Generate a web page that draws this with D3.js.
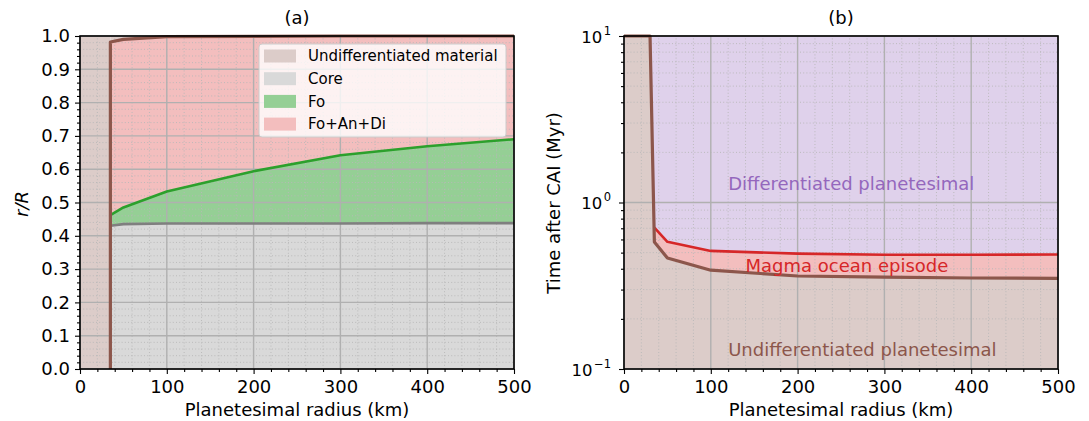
<!DOCTYPE html>
<html><head><meta charset="utf-8">
<script src="https://cdn.jsdelivr.net/npm/d3@7"></script>
<style>
body{margin:0;background:#fff;}
svg{font-family:"DejaVu Sans",sans-serif;}
</style></head>
<body><svg id="c" width="1089" height="421"></svg>
<script>
// ---------- data ----------
// Panel (a): radial structure r/R vs planetesimal radius (km)
const radiusA = [35, 50, 100, 200, 300, 400, 500];
const coreTop = [0.430, 0.435, 0.437, 0.437, 0.437, 0.438, 0.438];
const foTop   = [0.462, 0.485, 0.533, 0.594, 0.642, 0.669, 0.690];
const crustBase = [0.982, 0.990, 0.998, 0.999, 1.0, 1.0, 1.0];
const undiffEdgeA = 35;
const legendLabels = ["Undifferentiated material", "Core", "Fo", "Fo+An+Di"];
const xTicks = [0, 100, 200, 300, 400, 500];
const yTicksA = [0, 0.1, 0.2, 0.3, 0.4, 0.5, 0.6, 0.7, 0.8, 0.9, 1.0];
// Panel (b): times after CAI (Myr)
const radiusDiff = [0, 30, 35, 50, 100, 200, 300, 400, 500];
const tDiffOnset = [10, 10, 0.58, 0.464, 0.392, 0.362, 0.356, 0.352, 0.350];
const radiusMagma = [35, 50, 100, 200, 300, 400, 500];
const tMagmaEnd = [0.706, 0.581, 0.512, 0.493, 0.486, 0.485, 0.487];
const yTicksB = [0.1, 1, 10];
const regionLabels = ["Differentiated planetesimal", "Magma ocean episode", "Undifferentiated planetesimal"];

// ---------- setup ----------
const svg = d3.select("#c");
const C = {brown:"#8c564b", gray:"#7f7f7f", green:"#2ca02c", red:"#d62728", purple:"#9467bd"};
const fill = {brown:"#dcccc9", gray:"#d9d9d9", green:"#95cf95", red:"#f3bebe", purple:"#dfd1eb"};
const H = {top:36, bottom:369};
const FT = 18, FL = 18;
const xA = d3.scaleLinear().domain([0,500]).range([80,514]);
const yA = d3.scaleLinear().domain([0,1]).range([H.bottom,H.top]);
const xB = d3.scaleLinear().domain([0,500]).range([624,1058]);
const yB = d3.scaleLog().domain([0.1,10]).range([H.bottom,H.top]);

function poly(g, pts, x, y, color){
  g.append("path").attr("d", "M"+pts.map(p=>x(p[0])+","+y(p[1])).join("L")+"Z").attr("fill", color).attr("stroke","none");
}
function line(g, pts, x, y, color, w){
  g.append("path").attr("d", d3.line().x(p=>x(p[0])).y(p=>y(p[1]))(pts))
   .attr("fill","none").attr("stroke",color).attr("stroke-width",w).attr("stroke-linejoin","round");
}
function grid(g, x, y, xMaj, xMin, yMaj, yMin){
  const [x0,x1]=x.range(), [y0,y1]=y.range();
  xMin.forEach(v=>g.append("line").attr("x1",x(v)).attr("x2",x(v)).attr("y1",y0).attr("y2",y1).attr("stroke","#b8b8b8").attr("stroke-width",0.9).attr("stroke-dasharray","1,2.2"));
  yMin.forEach(v=>g.append("line").attr("x1",x0).attr("x2",x1).attr("y1",y(v)).attr("y2",y(v)).attr("stroke","#b8b8b8").attr("stroke-width",0.9).attr("stroke-dasharray","1,2.2"));
  xMaj.forEach(v=>g.append("line").attr("x1",x(v)).attr("x2",x(v)).attr("y1",y0).attr("y2",y1).attr("stroke","#b0b0b0").attr("stroke-width",1.4));
  yMaj.forEach(v=>g.append("line").attr("x1",x0).attr("x2",x1).attr("y1",y(v)).attr("y2",y(v)).attr("stroke","#b0b0b0").attr("stroke-width",1.4));
}
function frame(g, x, y){
  const [x0,x1]=x.range(), [y0,y1]=y.range();
  g.append("rect").attr("x",x0).attr("y",y1).attr("width",x1-x0).attr("height",y0-y1)
   .attr("fill","none").attr("stroke","#000").attr("stroke-width",1.6);
}
const xMinor = d3.range(0,501,20).filter(v=>v%100!==0);

// ---------- panel (a) ----------
const gA = svg.append("g");
const zA = radiusA.map((r,i)=>i);
poly(gA, [[0,0],[0,1],[undiffEdgeA,1],[undiffEdgeA,0]], xA, yA, fill.brown);
poly(gA, [[35,0]].concat(zA.map(i=>[radiusA[i],coreTop[i]])).concat([[500,0]]), xA, yA, fill.gray);
poly(gA, zA.map(i=>[radiusA[i],coreTop[i]]).concat(zA.slice().reverse().map(i=>[radiusA[i],foTop[i]])), xA, yA, fill.green);
poly(gA, zA.map(i=>[radiusA[i],foTop[i]]).concat(zA.slice().reverse().map(i=>[radiusA[i],crustBase[i]])), xA, yA, fill.red);
poly(gA, zA.map(i=>[radiusA[i],crustBase[i]]).concat([[500,1],[35,1]]), xA, yA, fill.brown);
grid(gA, xA, yA, xTicks, xMinor, yTicksA, d3.range(0,1.001,0.02).filter((v,i)=>i%5!==0));
line(gA, zA.map(i=>[radiusA[i],coreTop[i]]), xA, yA, C.gray, 2.6);
line(gA, zA.map(i=>[radiusA[i],foTop[i]]), xA, yA, C.green, 2.6);
line(gA, [[undiffEdgeA,0]].concat(zA.map(i=>[radiusA[i],crustBase[i]])), xA, yA, C.brown, 3.2);
frame(gA, xA, yA);
// axes
gA.append("g").attr("transform",`translate(0,${H.bottom})`)
  .call(d3.axisBottom(xA).tickValues(xTicks).tickSize(5).tickPadding(6).tickFormat(d3.format("d")));
gA.append("g").attr("transform",`translate(0,${H.bottom})`).call(d3.axisBottom(xA).tickValues(xMinor).tickSize(3).tickFormat(""));
gA.append("g").attr("transform",`translate(80,0)`)
  .call(d3.axisLeft(yA).tickValues(yTicksA).tickSize(5).tickPadding(5).tickFormat(d3.format(".1f")));
gA.append("g").attr("transform",`translate(80,0)`).call(d3.axisLeft(yA).tickValues(d3.range(0,1.001,0.02).filter((v,i)=>i%5!==0)).tickSize(3).tickFormat(""));
// legend
const lg = gA.append("g");
lg.append("rect").attr("x",259).attr("y",44).attr("width",247).attr("height",93).attr("rx",3)
  .attr("fill","rgba(255,255,255,0.8)").attr("stroke","#cccccc").attr("stroke-width",1);
const legFill = [fill.brown, fill.gray, fill.green, fill.red];
legendLabels.forEach((t,i)=>{
  const cy = 56 + i*22.7;
  lg.append("rect").attr("x",264).attr("y",cy-6.5).attr("width",32).attr("height",13).attr("fill",legFill[i]);
  lg.append("text").attr("x",308).attr("y",cy).attr("dy","0.35em").attr("font-size",15).attr("fill","#000").text(t);
});
gA.append("text").attr("x",297).attr("y",24).attr("text-anchor","middle").attr("font-size",FT).text("(a)");
gA.append("text").attr("x",297).attr("y",416).attr("text-anchor","middle").attr("font-size",FL).text("Planetesimal radius (km)");
gA.append("text").attr("transform","translate(28,204) rotate(-90)").attr("text-anchor","middle").attr("font-size",FL)
  .attr("font-style","italic").text("r/R");

// ---------- panel (b) ----------
const gB = svg.append("g");
const dPts = radiusDiff.map((r,i)=>[r,tDiffOnset[i]]);
const mPts = radiusMagma.map((r,i)=>[r,tMagmaEnd[i]]);
poly(gB, [[0,0.1]].concat(dPts).concat([[500,0.1]]), xB, yB, fill.brown);
poly(gB, mPts.concat(dPts.slice(2).reverse()), xB, yB, fill.red);
poly(gB, [[30,10],[500,10]].concat(mPts.slice().reverse()), xB, yB, fill.purple);
const yMinorB = [0.2,0.3,0.4,0.5,0.6,0.7,0.8,0.9,2,3,4,5,6,7,8,9];
grid(gB, xB, yB, xTicks, xMinor, yTicksB, yMinorB);
line(gB, mPts, xB, yB, C.red, 2.6);
line(gB, dPts, xB, yB, C.brown, 3.2);
frame(gB, xB, yB);
gB.append("g").attr("transform",`translate(0,${H.bottom})`)
  .call(d3.axisBottom(xB).tickValues(xTicks).tickSize(5).tickPadding(6).tickFormat(d3.format("d")));
gB.append("g").attr("transform",`translate(0,${H.bottom})`).call(d3.axisBottom(xB).tickValues(xMinor).tickSize(3).tickFormat(""));
gB.append("g").attr("transform",`translate(624,0)`)
  .call(d3.axisLeft(yB).tickValues(yTicksB).tickSize(5).tickPadding(4).tickFormat(""));
gB.append("g").attr("transform",`translate(624,0)`).call(d3.axisLeft(yB).tickValues(yMinorB).tickSize(3).tickFormat(""));
yTicksB.forEach(v=>{
  const e = String(Math.round(Math.log10(v))).replace("-","\u2212");
  const g = gB.append("g");
  const sup = g.append("text").attr("x",611).attr("y",yB(v)).attr("dy","-0.1em").attr("text-anchor","end").attr("font-size",11.5).text(e);
  const w = sup.node().getComputedTextLength();
  g.append("text").attr("x",611-w-1.5).attr("y",yB(v)).attr("dy","0.4em").attr("text-anchor","end").attr("font-size",16.5).text("10");
});
gB.append("text").attr("x",841).attr("y",24).attr("text-anchor","middle").attr("font-size",FT).text("(b)");
gB.append("text").attr("x",841).attr("y",416).attr("text-anchor","middle").attr("font-size",FL).text("Planetesimal radius (km)");
gB.append("text").attr("transform","translate(560,203) rotate(-90)").attr("text-anchor","middle").attr("font-size",FL)
  .text("Time after CAI (Myr)");
const labelPos = [[120,1.29,C.purple],[140,0.416,C.red],[120,0.13,C.brown]];
regionLabels.forEach((t,i)=>{
  gB.append("text").attr("x",xB(labelPos[i][0])).attr("y",yB(labelPos[i][1])).attr("dy","0.35em")
    .attr("font-size",18).attr("fill",labelPos[i][2]).text(t);
});

// axis styling
svg.selectAll(".domain").remove();
svg.selectAll(".tick line").attr("stroke","#000").attr("stroke-width",1.1);
svg.selectAll(".tick text").attr("font-size",FT).attr("fill","#000").attr("font-family","DejaVu Sans");
</script></body></html>
